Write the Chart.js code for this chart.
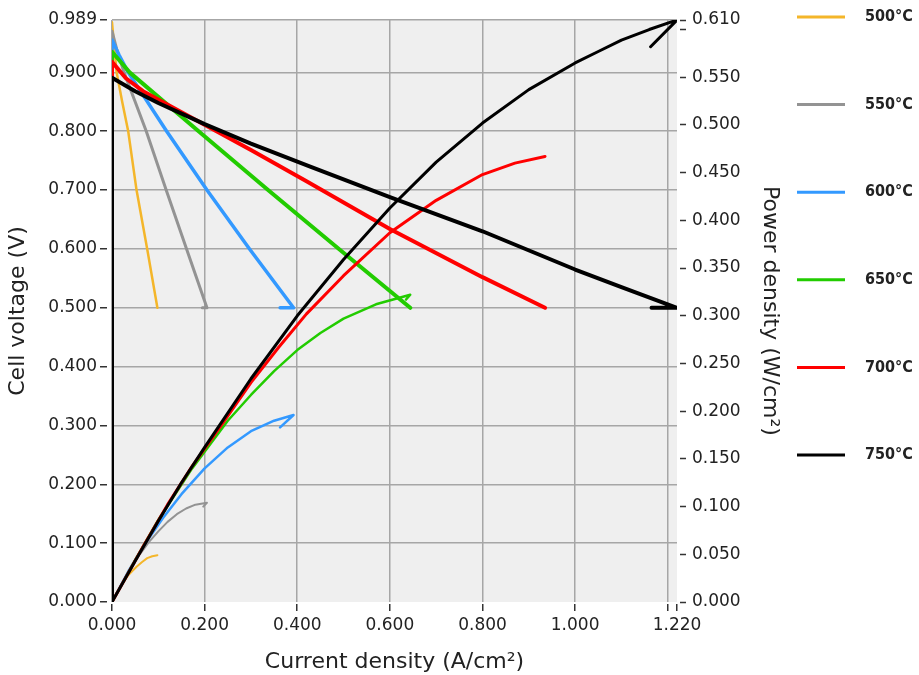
<!DOCTYPE html>
<html>
<head>
<meta charset="utf-8">
<title>Cell voltage and power density</title>
<script src="https://cdn.jsdelivr.net/npm/chart.js@4.4.1/dist/chart.umd.min.js"></script>
<style>
  body { margin: 0; background: #fff; }
  #chart { display: block; }
</style>
</head>
<body>
<canvas id="chart" width="919" height="675"></canvas>
<script>
// operating temperatures (legend) and their colours
const temps = ['500°C', '550°C', '600°C', '650°C', '700°C', '750°C'];
const colors = ['#F4B62A', '#939393', '#3399FF', '#22CC00', '#FF0000', '#000000'];

// tick positions (1.200 and 0.600 on the power axis get a tick but no label)
const xTicks = [0, 0.2, 0.4, 0.6, 0.8, 1.0, 1.2, 1.22];
const voltTicks = [0, 0.1, 0.2, 0.3, 0.4, 0.5, 0.6, 0.7, 0.8, 0.9, 0.989];
const powerTicks = [0, 0.05, 0.1, 0.15, 0.2, 0.25, 0.3, 0.35, 0.4, 0.45, 0.5, 0.55, 0.6, 0.61];

// polarisation curves: [current density (A/cm²), cell voltage (V)]
const v500 = [[0, 0], [0, 0.985], [0.004, 0.95], [0.01, 0.9], [0.022, 0.85], [0.035, 0.8], [0.053, 0.7], [0.076, 0.6], [0.098, 0.5]];
const v550 = [[0, 0], [0, 0.97], [0.01, 0.94], [0.026, 0.9], [0.05, 0.85], [0.074, 0.8], [0.117, 0.7], [0.161, 0.6], [0.205, 0.5], [0.195, 0.5]];
const v600 = [[0, 0], [0, 0.955], [0.015, 0.93], [0.035, 0.9], [0.118, 0.8], [0.205, 0.7], [0.297, 0.6], [0.392, 0.5], [0.363, 0.5]];
const v650 = [[0, 0], [0, 0.935], [0.038, 0.9], [0.187, 0.8], [0.337, 0.7], [0.49, 0.6], [0.644, 0.5]];
const v700 = [[0, 0], [0, 0.918], [0.03, 0.89], [0.067, 0.868], [0.174, 0.822], [0.3, 0.768], [0.42, 0.715], [0.6, 0.634], [0.8, 0.552], [0.935, 0.5]];
const v750 = [[0, 0], [0, 0.891], [0.05, 0.868], [0.1, 0.848], [0.2, 0.812], [0.3, 0.779], [0.428, 0.74], [0.6, 0.688], [0.8, 0.63], [1.0, 0.565], [1.1, 0.535], [1.22, 0.5], [1.165, 0.5]];

// power curves: [current density (A/cm²), power density (W/cm²)]
const p500 = [[0, 0], [0.01, 0.009], [0.02, 0.017], [0.035, 0.028], [0.045, 0.033], [0.053, 0.037], [0.065, 0.042], [0.076, 0.046], [0.087, 0.048], [0.098, 0.049]];
const p550 = [[0, 0], [0.02, 0.018], [0.04, 0.035], [0.06, 0.05], [0.08, 0.063], [0.1, 0.074], [0.12, 0.084], [0.14, 0.092], [0.16, 0.098], [0.18, 0.102], [0.205, 0.104], [0.197, 0.1]];
const p600 = [[0, 0], [0.035, 0.032], [0.07, 0.06], [0.11, 0.088], [0.15, 0.113], [0.2, 0.14], [0.25, 0.162], [0.3, 0.179], [0.35, 0.19], [0.392, 0.196], [0.363, 0.183]];
const p650 = [[0, 0], [0.05, 0.044], [0.1, 0.086], [0.173, 0.14], [0.25, 0.19], [0.3, 0.217], [0.35, 0.242], [0.4, 0.264], [0.45, 0.282], [0.5, 0.297], [0.57, 0.312], [0.644, 0.322], [0.635, 0.317]];
const p700 = [[0, 0], [0.067, 0.058], [0.12, 0.102], [0.174, 0.143], [0.24, 0.188], [0.3, 0.23], [0.36, 0.267], [0.42, 0.302], [0.5, 0.342], [0.6, 0.387], [0.7, 0.421], [0.8, 0.448], [0.87, 0.46], [0.935, 0.467]];
const p750 = [[0, 0], [0.05, 0.043], [0.1, 0.085], [0.15, 0.125], [0.2, 0.162], [0.3, 0.234], [0.4, 0.3], [0.5, 0.359], [0.6, 0.413], [0.7, 0.461], [0.8, 0.502], [0.9, 0.537], [1.0, 0.565], [1.05, 0.577], [1.1, 0.589], [1.16, 0.6], [1.22, 0.61], [1.163, 0.582]];

const voltage = [v500, v550, v600, v650, v700, v750];
const power = [p500, p550, p600, p650, p700, p750];
const voltWidth = [2.5, 3, 3.5, 4, 4, 4];
const powerWidth = [2, 2, 2.5, 2.5, 3, 3];

Chart.defaults.font.family = '"DejaVu Sans", Verdana, sans-serif';
Chart.defaults.color = '#222';

const datasets = [];
temps.forEach((t, i) => {
    // hotter curves drawn on top
    datasets.push({
        label: t + ' voltage',
        data: voltage[i],
        yAxisID: 'y',
        borderColor: colors[i],
        borderWidth: voltWidth[i],
        order: (5 - i) * 2
    });
    datasets.push({
        label: t + ' power',
        data: power[i],
        yAxisID: 'y2',
        borderColor: colors[i],
        borderWidth: powerWidth[i],
        order: (5 - i) * 2 + 1
    });
});

// light grey plot background
const plotBackground = {
    id: 'plotBackground',
    beforeDraw(chart) {
        const a = chart.chartArea;
        chart.ctx.save();
        chart.ctx.fillStyle = '#EFEFEF';
        chart.ctx.fillRect(a.left, a.top, a.right - a.left, a.bottom - a.top);
        chart.ctx.restore();
    }
};

// legend column on the right
const sideLegend = {
    id: 'sideLegend',
    afterDraw(chart) {
        const ctx = chart.ctx;
        ctx.save();
        ctx.font = 'bold 16px "DejaVu Sans Condensed", "DejaVu Sans", sans-serif';
        ctx.textBaseline = 'middle';
        temps.forEach((t, i) => {
            const y = 17 + i * 87.6;
            ctx.strokeStyle = colors[i];
            ctx.lineWidth = 3;
            ctx.beginPath();
            ctx.moveTo(797, y);
            ctx.lineTo(845, y);
            ctx.stroke();
            ctx.fillStyle = '#222';
            ctx.fillText(t, 865, y);
        });
        ctx.restore();
    }
};

const tickFont = { size: 17 };
const titleFont = { size: 22 };
const fmt = v => v.toFixed(3);

new Chart(document.getElementById('chart'), {
    type: 'line',
    data: { datasets: datasets },
    options: {
        responsive: false,
        animation: false,
        layout: { padding: { top: 20, right: 132, bottom: 0, left: 0 } },
        elements: {
            point: { radius: 0 },
            line: { tension: 0, borderCapStyle: 'round', borderJoinStyle: 'round' }
        },
        plugins: {
            legend: { display: false },
            tooltip: { enabled: false }
        },
        scales: {
            x: {
                type: 'linear',
                min: 0,
                max: 1.22,
                afterBuildTicks: axis => { axis.ticks = xTicks.map(v => ({ value: v })); },
                afterFit: scale => { scale.height = 73; },
                border: { display: false },
                grid: {
                    color: c => c.tick && c.tick.value === 1.22 ? 'transparent' : '#A6A6A6',
                    lineWidth: 1.5,
                    tickColor: '#333',
                    tickLength: 10,
                    tickWidth: 1.5,
                    tickBorderDash: [0, 2, 7, 20]
                },
                ticks: {
                    font: tickFont, autoSkip: false, maxRotation: 0, padding: 3,
                    callback: v => v === 1.2 ? '' : fmt(v)
                },
                title: {
                    display: true,
                    text: 'Current density (A/cm²)',
                    font: titleFont,
                    padding: { top: 0, bottom: 0 }
                }
            },
            y: {
                position: 'left',
                min: 0,
                max: 0.989,
                afterBuildTicks: axis => { axis.ticks = voltTicks.map(v => ({ value: v })); },
                afterFit: scale => { scale.width = 112; },
                border: { display: false },
                grid: {
                    color: c => c.tick && c.tick.value === 0 ? 'transparent' : '#A6A6A6',
                    lineWidth: 1.5,
                    tickColor: '#333',
                    tickLength: 12,
                    tickWidth: 1.5,
                    tickBorderDash: [7, 20]
                },
                ticks: { font: tickFont, autoSkip: false, padding: 3, callback: fmt },
                title: {
                    display: true,
                    text: 'Cell voltage (V)',
                    font: titleFont,
                    padding: { top: 5, bottom: 0 }
                }
            },
            y2: {
                position: 'right',
                min: 0,
                max: 0.61,
                afterBuildTicks: axis => { axis.ticks = powerTicks.map(v => ({ value: v })); },
                afterFit: scale => { scale.width = 110; },
                border: { display: false },
                grid: {
                    drawOnChartArea: false,
                    tickColor: '#333',
                    tickLength: 9,
                    tickWidth: 1.5,
                    tickBorderDash: [0, 3, 6, 20]
                },
                ticks: {
                    font: tickFont, autoSkip: false, padding: 6,
                    callback: v => v === 0.6 ? '' : fmt(v)
                },
                title: {
                    display: true,
                    text: 'Power density (W/cm²)',
                    font: titleFont,
                    padding: { top: 4, bottom: 0 }
                }
            }
        }
    },
    plugins: [plotBackground, sideLegend]
});
</script>
</body>
</html>
